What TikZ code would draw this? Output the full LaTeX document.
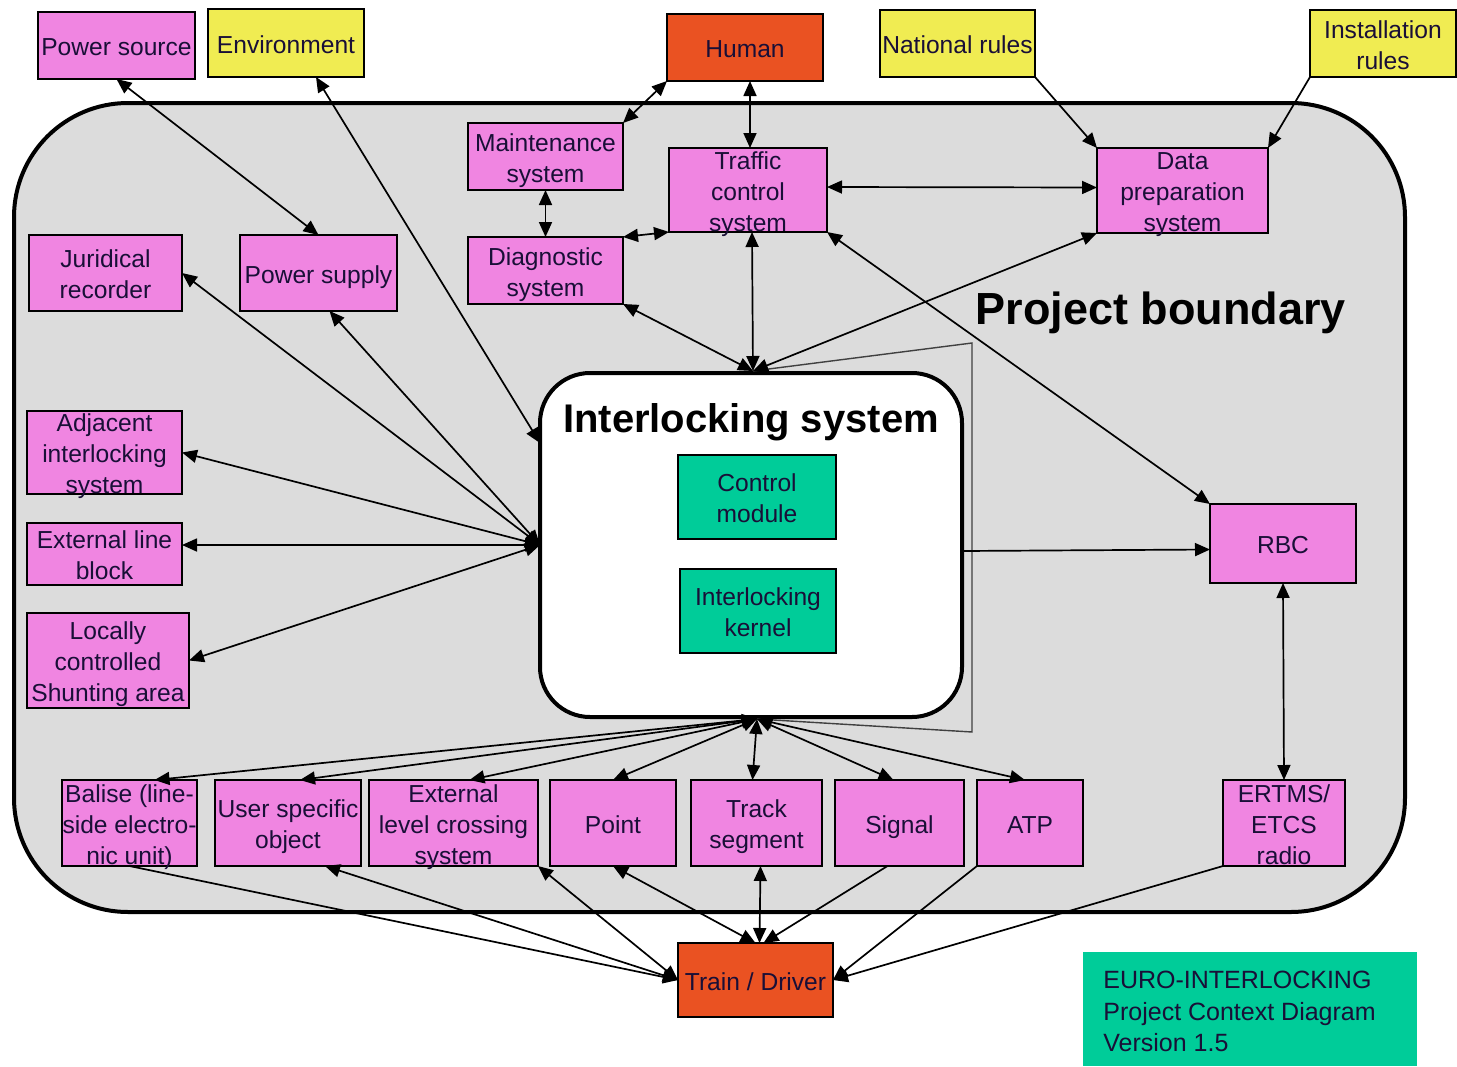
\documentclass[tikz,border=0pt]{standalone}
\usepackage{fontspec}
\setmainfont{Liberation Sans}
\usetikzlibrary{arrows.meta,calc}
\definecolor{pinkbox}{RGB}{240,133,225}
\definecolor{yellowbox}{RGB}{240,236,82}
\definecolor{orangebox}{RGB}{234,82,34}
\definecolor{greenbox}{RGB}{0,204,153}
\definecolor{boundgray}{RGB}{220,220,220}
\definecolor{txt}{RGB}{25,15,55}
\newcommand\MLines[1]{\smash{\raisebox{-0.4em}{\begin{tabular}{@{}c@{}}#1\end{tabular}}}}
\newcommand\BoxAt[7]{\node[#1, minimum width={(#5-#3)*0.5pt}, minimum height={(#6-#4)*0.5pt}] (#2) at ({(#3+#5)/2},{(#4+#6)/2}) {\MLines{#7}};}
\begin{document}
\begin{tikzpicture}[x=0.5pt,y=-0.5pt,
  box/.style={draw=black, line width=0.9pt, inner sep=0pt, outer sep=0pt, text=txt, font=\fontsize{12.3}{15.5}\selectfont},
  pinkb/.style={box, fill=pinkbox},
  yellowb/.style={box, fill=yellowbox},
  orangeb/.style={box, fill=orangebox},
  greenb/.style={box, fill=greenbox},
  link/.style={line width=0.85pt, draw=black},
  bi/.style={link, {Triangle[length=7.5pt,width=6.5pt]}-{Triangle[length=7.5pt,width=6.5pt]}},
  uni/.style={link, -{Triangle[length=7.5pt,width=6.5pt]}},
  thinline/.style={line width=0.7pt, draw=black!75}
]
\useasboundingbox (0,0) rectangle (1457,1066);

% project boundary
\node[draw=black, line width=2pt, fill=boundgray, rounded corners=57pt, inner sep=0pt, outer sep=0pt,
      minimum width=695.5pt, minimum height=404.5pt] (pb) at (709.5,507.5) {};
\node[font=\fontsize{22.5}{26}\selectfont\bfseries, inner sep=0pt] (pbt) at (1161,313) {Project boundary};

% interlocking system
\node[draw=black, line width=2pt, fill=white, rounded corners=25pt, inner sep=0pt, outer sep=0pt,
      minimum width=211pt, minimum height=172pt] (il) at (751,545) {};
\node[font=\fontsize{20}{24}\selectfont\bfseries, inner sep=0pt] (ilt) at (751,422) {Interlocking system};

% external boxes
\BoxAt{pinkb}{psrc}{38}{12}{195}{79}{Power source}
\BoxAt{yellowb}{env}{208}{9}{364}{77}{Environment}
\BoxAt{orangeb}{hum}{667}{14}{823}{81}{Human}
\BoxAt{yellowb}{nat}{880}{10}{1035}{77}{National rules}
\BoxAt{yellowb}{inst}{1310}{10}{1456}{77}{Installation\\rules}

% inner boxes
\BoxAt{pinkb}{maint}{468}{123}{623}{190}{Maintenance\\system}
\BoxAt{pinkb}{tcs}{669}{148}{827}{232}{Traffic\\control\\system}
\BoxAt{pinkb}{dps}{1097}{148}{1268}{233}{Data\\preparation\\system}
\BoxAt{pinkb}{diag}{468}{237}{623}{304}{Diagnostic\\system}
\BoxAt{pinkb}{jur}{29}{235}{182}{311}{Juridical\\recorder}
\BoxAt{pinkb}{psup}{240}{235}{397}{311}{Power supply}
\BoxAt{pinkb}{adj}{27}{411}{182}{494}{Adjacent\\interlocking\\system}
\BoxAt{pinkb}{elb}{27}{523}{182}{585}{External line\\block}
\BoxAt{pinkb}{loc}{27}{613}{189}{708}{Locally\\controlled\\Shunting area}
\BoxAt{greenb}{cm}{678}{455}{836}{539}{Control\\module}
\BoxAt{greenb}{ik}{680}{569}{836}{653}{Interlocking\\kernel}
\BoxAt{pinkb}{rbc}{1210}{504}{1356}{583}{RBC}
\BoxAt{pinkb}{ertms}{1223}{780}{1345}{866}{ERTMS/\\ETCS\\radio}
\BoxAt{pinkb}{bal}{62}{780}{197}{866}{Balise (line-\\side electro-\\nic unit)}
\BoxAt{pinkb}{usr}{215}{780}{361}{866}{User specific\\object}
\BoxAt{pinkb}{elc}{369}{780}{538}{866}{External\\level crossing\\system}
\BoxAt{pinkb}{pt}{550}{780}{676}{866}{Point}
\BoxAt{pinkb}{trk}{691}{780}{822}{866}{Track\\segment}
\BoxAt{pinkb}{sig}{835}{780}{964}{866}{Signal}
\BoxAt{pinkb}{atp}{977}{780}{1083}{866}{ATP}
\BoxAt{orangeb}{trn}{678}{943}{833}{1017}{Train / Driver}

% legend
\node[fill=greenbox, inner sep=0pt, outer sep=0pt, minimum width=167pt, minimum height=57pt] (leg) at (1250,1009) {};
\node[anchor=west, inner sep=0pt, text=txt, font=\fontsize{12.5}{15.8}\selectfont] (legt) at (1103,1014)
  {\begin{tabular}{@{}l@{}}EURO-INTERLOCKING\\Project Context Diagram\\Version 1.5\end{tabular}};

% hubs and helper points
\coordinate (hubT) at (753,371);
\coordinate (hubB) at (757,719);
\coordinate (pc1) at (972,343);
\coordinate (pc2) at (972,732);

% connectors
\draw[thinline] (hubT) -- (pc1) -- (pc2) -- (hubB);
\draw[bi] (psrc.south) -- (psup.north);
\draw[bi] ($(env.south)+(30,0)$) -- ($(il.west)+(0,-102)$);
\draw[bi] (jur.east) -- (il.west);
\draw[bi] ($(psup.south)+(11,0)$) -- (il.west);
\draw[bi] (adj.east) -- (il.west);
\draw[bi] ($(elb.east)+(0,-9)$) -- (il.west);
\draw[bi] (loc.east) -- (il.west);
\draw[bi] (hum.south west) -- (maint.north east);
\draw[bi] ($(hum.south)+(5,0)$) -- ($(tcs.north)+(2,0)$);
\draw[bi] (maint.south) -- (diag.north);
\draw[bi] (diag.north east) -- (tcs.south west);
\draw[bi] ($(tcs.east)+(0,-3)$) -- ($(dps.west)+(0,-3)$);
\draw[uni] (nat.south east) -- (dps.north west);
\draw[uni] (inst.south west) -- (dps.north east);
\draw[bi] (diag.south east) -- (hubT);
\draw[bi] ($(tcs.south)+(4,0)$) -- (hubT);
\draw[bi] (dps.south west) -- (hubT);
\draw[bi] (tcs.south east) -- (rbc.north west);
\draw[uni] ($(il.east)+(0,6)$) -- ($(rbc.west)+(0,6)$);
\draw[bi] (rbc.south) -- (ertms.north);
\draw[bi] (hubB) -- ($(bal.north)+(25,0)$);
\draw[bi] (hubB) -- ($(usr.north)+(12,0)$);
\draw[bi] (hubB) -- ($(elc.north)+(16,0)$);
\draw[bi] (hubB) -- (pt.north);
\draw[bi] (hubB) -- ($(trk.north)+(-4,0)$);
\draw[bi] (hubB) -- ($(sig.north)+(-6,0)$);
\draw[bi] (hubB) -- ($(atp.north)+(-5,0)$);
\draw[uni] (bal.south) -- (trn.west);
\draw[bi] ($(usr.south)+(37,0)$) -- (trn.west);
\draw[bi] (elc.south east) -- (trn.west);
\draw[bi] (pt.south) -- (trn.north);
\draw[bi] ($(trk.south)+(4,0)$) -- ($(trn.north)+(4,0)$);
\draw[uni] ($(sig.south)+(-12,0)$) -- ($(trn.north)+(8,0)$);
\draw[uni] (atp.south west) -- (trn.east);
\draw[uni] (ertms.south west) -- (trn.east);
\end{tikzpicture}
\end{document}
